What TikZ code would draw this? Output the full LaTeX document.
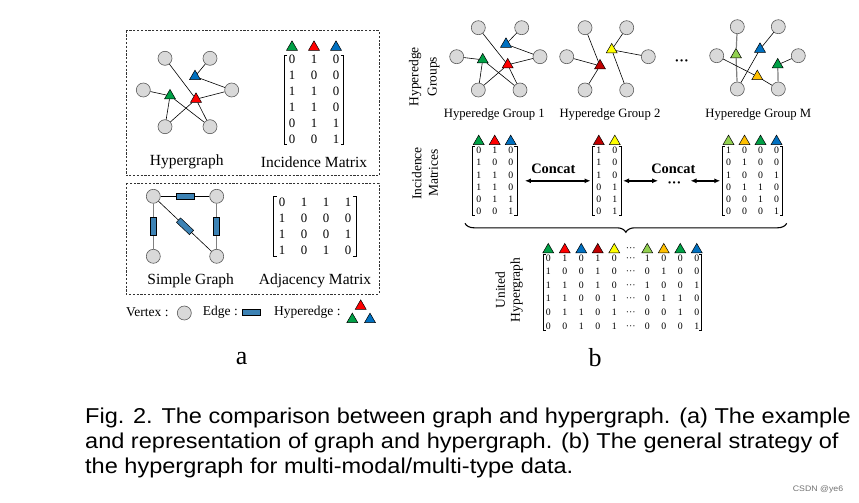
\documentclass[tikz,border=0pt]{standalone}
\usepackage{fontspec}
\setmainfont{Liberation Serif}
\newfontfamily\capfont[FakeStretch=1.095]{Liberation Sans}
\usetikzlibrary{shapes.geometric,matrix,arrows.meta,decorations.pathreplacing}
\definecolor{cG}{RGB}{0,160,70}
\definecolor{cR}{RGB}{255,0,0}
\definecolor{cB}{RGB}{0,112,192}
\definecolor{cDR}{RGB}{192,0,0}
\definecolor{cY}{RGB}{255,255,0}
\definecolor{cLG}{RGB}{146,208,80}
\definecolor{cO}{RGB}{255,192,0}
\definecolor{cE}{RGB}{60,130,180}
\definecolor{vfill}{RGB}{217,217,217}
\definecolor{vdraw}{RGB}{90,90,90}
\newcommand\myfs[1]{\fontsize{#1}{#1}\selectfont}
\newcommand\mybrk[4]{%
 \draw[brak] ([shift={(#2+#4,#3)}]#1.north west) -- ([shift={(#2,#3)}]#1.north west) -- ([shift={(#2,-#3)}]#1.south west) -- ([shift={(#2+#4,-#3)}]#1.south west);
 \draw[brak] ([shift={(-#2-#4,#3)}]#1.north east) -- ([shift={(-#2,#3)}]#1.north east) -- ([shift={(-#2,-#3)}]#1.south east) -- ([shift={(-#2-#4,-#3)}]#1.south east);}
\tikzset{
 vtx/.style={circle, draw=vdraw, fill=vfill, line width=0.6pt, minimum size=14pt, inner sep=0pt},
 tri/.style={regular polygon, regular polygon sides=3, draw=black, line width=0.5pt, minimum size=12.7pt, inner sep=0pt, fill=#1},
 ln/.style={line width=0.6pt, draw=black},
 gln/.style={line width=1.2pt, draw=black!50},
 ebox/.style={rectangle, draw=black, fill=cE, line width=0.5pt, minimum width=18pt, minimum height=6pt, inner sep=0pt},
 dbox/.style={draw=black!80, line width=0.7pt, dash pattern=on 2.2pt off 1.6pt},
 lbl/.style={font=\myfs{15.5}, inner sep=0pt},
 leg/.style={font=\myfs{13.5}, inner sep=0pt},
 glbl/.style={font=\myfs{12.7}, inner sep=0pt},
 brak/.style={line width=0.8pt, draw=black},
 mat/.style={matrix of nodes, inner sep=0pt, row sep=0pt, column sep=0pt},
 cellL/.style={minimum width=22pt, minimum height=16pt, inner sep=0pt, font=\myfs{12.8}},
 cellS/.style={minimum width=16pt, minimum height=12pt, inner sep=0pt, font=\myfs{9.8}},
 dbl/.style={{Latex[length=6pt,width=5pt]}-{Latex[length=6pt,width=5pt]}, line width=1.4pt},
 rlbl/.style={rotate=90, align=center, inner sep=0pt}
}
\begin{document}
\begin{tikzpicture}[x=1pt,y=-1pt]
\fill[white] (0,0) rectangle (859,503);
\useasboundingbox (0,0) rectangle (859,503);

% ---------------- panel a ----------------
\draw[dbox] (126,30.7) rectangle (379,175.7);
\draw[dbox] (126,183) rectangle (379,294);

% hypergraph
\node[vtx] (hA) at (165,58.3) {};
\node[vtx] (hB) at (210,58.3) {};
\node[vtx] (hC) at (143.3,90) {};
\node[vtx] (hD) at (231.7,90) {};
\node[vtx] (hE) at (165,126.7) {};
\node[vtx] (hF) at (210,126.7) {};
\node[tri=cB] (hb) at (195,76.5) {};
\node[tri=cG] (hg) at (170,95.8) {};
\node[tri=cR] (hr) at (196,99.2) {};
\draw[ln] (hA) -- (hr);
\draw[ln] (hr) -- (hF);
\draw[ln] (hB) -- (hb);
\draw[ln] (hb) -- (hD);
\draw[ln] (hC) -- (hg);
\draw[ln] (hg) -- (hE);
\draw[ln] (hg) -- (hF);
\draw[ln] (hr) -- (hD);
\draw[ln] (hr) -- (hE);

% incidence matrix
\matrix (mI) [mat, nodes={cellL}] at (314,99.7) {
0 & 1 & 0\\ 1 & 0 & 0\\ 1 & 1 & 0\\ 1 & 1 & 0\\ 0 & 1 & 1\\ 0 & 0 & 1\\};
\mybrk{mI}{3.5}{3.5}{3}
\coordinate (rI) at (0,47.2);
\node[tri=cG] (tI1) at (mI-1-1 |- rI) {};
\node[tri=cR] (tI2) at (mI-1-2 |- rI) {};
\node[tri=cB] (tI3) at (mI-1-3 |- rI) {};

\node[lbl] (lHy) at (186.7,161.7) {Hypergraph};
\node[lbl] (lIM) at (314,161.7) {Incidence Matrix};

% simple graph
\node[vtx] (s1) at (153.3,196.3) {};
\node[vtx] (s2) at (216.7,196.3) {};
\node[vtx] (s3) at (153.3,256.3) {};
\node[vtx] (s4) at (216.7,256.3) {};
\draw[ln] (s1) -- node[ebox, sloped] (e1) {} (s2);
\draw[gln] (s1) -- node[ebox, sloped] (e2) {} (s3);
\draw[gln] (s2) -- node[ebox, sloped] (e3) {} (s4);
\draw[ln] (s1) -- node[ebox, sloped] (e4) {} (s4);

% adjacency matrix
\matrix (mA) [mat, nodes={cellL}] at (315,226.5) {
0 & 1 & 1 & 1\\ 1 & 0 & 0 & 0\\ 1 & 0 & 0 & 1\\ 1 & 0 & 1 & 0\\};
\mybrk{mA}{3}{2.5}{3}

\node[lbl] (lSG) at (190.7,280.3) {Simple Graph};
\node[lbl] (lAM) at (315,280.3) {Adjacency Matrix};

% legend
\node[leg, anchor=west] (lgV) at (126,312.3) {Vertex :};
\node[vtx] (lgVx) at (184.3,313) {};
\node[leg, anchor=west] (lgE) at (202.7,312.3) {Edge :};
\node[ebox] (lgEx) at (251.7,312.3) {};
\node[leg, anchor=west] (lgH) at (274,312.3) {Hyperedge :};
\node[tri=cR] (lgHr) at (360.7,306.2) {};
\node[tri=cG] (lgHg) at (352.3,319.5) {};
\node[tri=cB] (lgHb) at (370,319.5) {};

\node[font=\myfs{26}, inner sep=0pt] (la) at (241.7,358.7) {a};

% ---------------- panel b ----------------
\node[rlbl, font=\fontsize{13.5}{18.3}\selectfont] (lHG) at (424.2,76.7) {Hyperedge\\Groups};
\node[rlbl, font=\fontsize{13.5}{16.7}\selectfont] (lIMs) at (425,173.3) {Incidence\\Matrices};
\node[rlbl, font=\fontsize{13.5}{15}\selectfont] (lUH) at (509.2,290) {United\\Hypergraph};

% group 1
\node[vtx] (aA) at (478.3,27.7) {};
\node[vtx] (aB) at (521.7,27.7) {};
\node[vtx] (aC) at (456.7,56.7) {};
\node[vtx] (aD) at (540,56.7) {};
\node[vtx] (aE) at (478.3,90) {};
\node[vtx] (aF) at (520,90) {};
\node[tri=cB] (ab) at (506,44.2) {};
\node[tri=cG] (ag) at (482.7,59.8) {};
\node[tri=cR] (ar) at (507.7,64.8) {};
\draw[ln] (aA) -- (ar);
\draw[ln] (ar) -- (aF);
\draw[ln] (aB) -- (ab);
\draw[ln] (ab) -- (aD);
\draw[ln] (aC) -- (ag);
\draw[ln] (ag) -- (aE);
\draw[ln] (ag) -- (aF);
\draw[ln] (ar) -- (aD);
\draw[ln] (ar) -- (aE);
\node[glbl] (lG1) at (494.3,114.3) {Hyperedge Group 1};

% group 2
\node[vtx] (bA) at (585,27.7) {};
\node[vtx] (bB) at (626.7,27.7) {};
\node[vtx] (bC) at (566.7,56.7) {};
\node[vtx] (bD) at (648.3,56.7) {};
\node[vtx] (bE) at (585,90) {};
\node[vtx] (bF) at (626.7,90) {};
\node[tri=cY] (by) at (611.7,49.8) {};
\node[tri=cDR] (bd) at (600,65.8) {};
\draw[ln] (bA) -- (bd);
\draw[ln] (bC) -- (bd);
\draw[ln] (bd) -- (bE);
\draw[ln] (bB) -- (by);
\draw[ln] (by) -- (bD);
\draw[ln] (by) -- (bF);
\node[glbl] (lG2) at (610,114.3) {Hyperedge Group 2};

\node[font=\bfseries\myfs{14}, inner sep=0pt] (dG) at (681.7,62.5) {···};

% group M
\node[vtx] (cA) at (737.3,26.7) {};
\node[vtx] (cB) at (778.3,26.7) {};
\node[vtx] (cC) at (716.7,55.7) {};
\node[vtx] (cD) at (798.3,55.7) {};
\node[vtx] (cE) at (737.3,89) {};
\node[vtx] (cF) at (778.3,89) {};
\node[tri=cLG] (cl) at (736,54.8) {};
\node[tri=cB] (cb) at (760,49.2) {};
\node[tri=cG] (cg) at (777.7,64.8) {};
\node[tri=cO] (co) at (757.3,76.5) {};
\draw[gln] (cA) -- (cl);
\draw[gln] (cl) -- (cE);
\draw[ln] (cC) -- (co);
\draw[ln] (co) -- (cF);
\draw[ln] (cb) -- (cB);
\draw[ln] (cb) -- (cE);
\draw[ln] (cg) -- (cD);
\draw[gln] (cg) -- (cF);
\node[glbl] (lGM) at (758.3,114.3) {Hyperedge Group M};

% incidence matrices
\matrix (m1) [mat, nodes={cellS}] at (494.7,180.8) {
0 & 1 & 0\\ 1 & 0 & 0\\ 1 & 1 & 0\\ 1 & 1 & 0\\ 0 & 1 & 1\\ 0 & 0 & 1\\};
\matrix (m2) [mat, nodes={cellS}] at (606.8,180.8) {
1 & 0\\ 1 & 0\\ 1 & 0\\ 0 & 1\\ 0 & 1\\ 0 & 1\\};
\matrix (m3) [mat, nodes={cellS}] at (752.5,180.8) {
1 & 0 & 0 & 0\\ 0 & 1 & 0 & 0\\ 1 & 0 & 0 & 1\\ 0 & 1 & 1 & 0\\ 0 & 0 & 1 & 0\\ 0 & 0 & 0 & 1\\};
\tikzset{brak/.style={line width=0.7pt, draw=black}}
\mybrk{m1}{2}{1.8}{2.5}
\mybrk{m2}{2}{1.8}{2.5}
\mybrk{m3}{2}{1.8}{2.5}
\coordinate (rR) at (0,141.5);
\node[tri=cG] (t11) at (m1-1-1 |- rR) {};
\node[tri=cR] (t12) at (m1-1-2 |- rR) {};
\node[tri=cB] (t13) at (m1-1-3 |- rR) {};
\node[tri=cDR] (t21) at (m2-1-1 |- rR) {};
\node[tri=cY] (t22) at (m2-1-2 |- rR) {};
\node[tri=cLG] (t31) at (m3-1-1 |- rR) {};
\node[tri=cO] (t32) at (m3-1-2 |- rR) {};
\node[tri=cG] (t33) at (m3-1-3 |- rR) {};
\node[tri=cB] (t34) at (m3-1-4 |- rR) {};

\node[font=\bfseries\myfs{14.4}, inner sep=0pt] (cc1) at (553.3,169.3) {Concat};
\node[font=\bfseries\myfs{14.4}, inner sep=0pt] (cc2) at (673.3,169.3) {Concat};
\node[font=\bfseries\myfs{14}, inner xsep=9pt, inner ysep=0pt] (dC) at (674.3,184.5) {···};
\draw[dbl] ([xshift=6pt]m1.east) -- (m2.west);
\draw[dbl] (m2.east) -- (m2.east -| dC.west);
\draw[dbl] (dC.east |- m3.west) -- (m3.west);

% brace
\coordinate (brL) at (465,223.3);
\coordinate (brR) at (786.7,223.3);
\draw[decorate, decoration={brace, mirror, amplitude=9pt}, line width=1.1pt] (brL) -- (brR);

% united hypergraph
\matrix (mU) [mat, nodes={cellS, minimum width=16.5pt, minimum height=12.3pt}] at (622.5,292.5) {
0 & 1 & 0 & 1 & 0 & ··· & 1 & 0 & 0 & 0\\
1 & 0 & 0 & 1 & 0 & ··· & 0 & 1 & 0 & 0\\
1 & 1 & 0 & 1 & 0 & ··· & 1 & 0 & 0 & 1\\
1 & 1 & 0 & 0 & 1 & ··· & 0 & 1 & 1 & 0\\
0 & 1 & 1 & 0 & 1 & ··· & 0 & 0 & 1 & 0\\
0 & 0 & 1 & 0 & 1 & ··· & 0 & 0 & 0 & 1\\};
\mybrk{mU}{3.5}{3}{2.5}
\coordinate (rU) at (0,249.8);
\node[tri=cG] (u1) at (mU-1-1 |- rU) {};
\node[tri=cR] (u2) at (mU-1-2 |- rU) {};
\node[tri=cB] (u3) at (mU-1-3 |- rU) {};
\node[tri=cDR] (u4) at (mU-1-4 |- rU) {};
\node[tri=cY] (u5) at (mU-1-5 |- rU) {};
\node[font=\myfs{10}, inner sep=0pt] (u6) at (mU-1-6 |- rU) {···};
\node[tri=cLG] (u7) at (mU-1-7 |- rU) {};
\node[tri=cO] (u8) at (mU-1-8 |- rU) {};
\node[tri=cG] (u9) at (mU-1-9 |- rU) {};
\node[tri=cB] (u10) at (mU-1-10 |- rU) {};

\node[font=\myfs{26}, inner sep=0pt] (lb) at (595,357.5) {b};

% caption
\node[anchor=base west, font=\capfont\myfs{21.5}, inner sep=0pt] (cap1) at (85,423.3) {Fig. 2. The comparison between graph and hypergraph. (a) The example};
\node[anchor=base west, font=\capfont\myfs{21.5}, inner sep=0pt] (cap2) at (85,448.3) {and representation of graph and hypergraph. (b) The general strategy of};
\node[anchor=base west, font=\capfont\myfs{21.5}, inner sep=0pt] (cap3) at (85,473.8) {the hypergraph for multi-modal/multi-type data.};
\node[font=\capfont\myfs{8}, text=black!55, inner sep=0pt] (wm) at (818,489) {CSDN @ye6};
\end{tikzpicture}
\end{document}
